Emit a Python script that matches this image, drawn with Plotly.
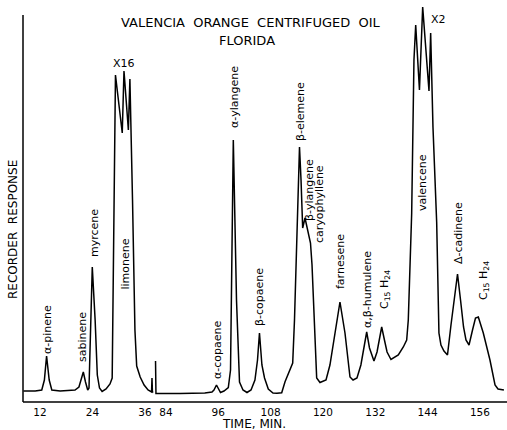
import plotly.graph_objects as go

# ---- data (time in min, response in arbitrary units) ----
left_time = [8.2, 10.9, 12.4, 13.0, 13.5, 14.1, 14.7, 16.6, 20.0, 20.9, 21.5, 21.9, 22.4, 22.9,
             23.2, 23.55, 23.95, 24.6, 25.1, 25.6, 26.2, 27.1, 28.0, 28.5, 28.8, 29.25, 30.8,
             31.2, 32.2, 32.55, 33.15, 33.7, 34.1, 34.9, 35.8, 36.7, 37.5, 37.6, 37.7, 37.9]
left_resp = [11, 11, 12, 22, 46, 22, 12, 11, 12, 15, 24, 30, 20, 12,
             14, 82, 135, 82, 27, 14, 10.5, 13, 18, 24, 152, 327, 269,
             331, 272, 323, 202, 72, 36, 25, 17, 12, 10, 24, 10, 10]

right_time = [81.6, 81.7, 87.2, 92.9, 94.55, 95.0, 95.58, 96.16, 96.5, 97.3, 98.29, 98.8,
              99.44, 100.17, 100.86, 101.66, 102.58, 103.5, 104.4, 104.99, 105.44, 106.0,
              106.6, 107.46, 108.54, 109.46, 110.54, 111.3, 112.44, 113.06, 113.47, 114.04,
              114.62, 114.97, 115.35, 115.88, 116.5, 117.14, 117.49, 118.17, 118.56, 119.32,
              120.7, 121.6, 122.76, 123.9, 125.05, 126.2, 126.9, 127.8, 128.7, 129.4, 130.03,
              130.67, 131.7, 132.4, 133.47, 134.1, 134.7, 135.6, 137.28, 138.43, 139.2, 139.57,
              139.7, 140.35, 140.87, 141.27, 142.13, 142.87, 144.32, 144.7, 145.23, 146.08,
              146.6, 147.06, 147.75, 148.56, 149.36, 150.17, 150.86, 151.55, 152.24, 152.8,
              153.5, 154.3, 154.98, 155.63, 156.0, 156.77, 158.3, 159.46, 160.15, 161.5]
right_resp = [41, 8.5, 8.5, 9, 10, 12, 17, 12, 9.5, 11, 14.3, 32,
              262, 102, 20, 12, 9.5, 12, 22, 42, 69, 37,
              24, 13, 9, 8.7, 9.3, 20.3, 32, 39, 82, 182,
              255, 222, 174, 184, 172, 159, 137, 69, 24, 19.5,
              22, 37, 69, 100, 69, 25, 22, 24, 37, 57, 70,
              54, 41, 50, 75, 62, 50, 42.5, 47, 55, 62, 82,
              102, 189, 342, 377, 312, 395, 311, 369, 275, 180,
              69, 57, 51, 47, 77, 107, 128, 102, 75, 62,
              57, 72, 84, 85, 80, 69, 42, 17, 13, 12]

left_ticks = [12, 24, 36]
right_ticks = [84, 96, 108, 120, 132, 144, 156]

# ---- layout geometry ----
W, H = 507, 430
ML, MR, MT, MB = 23, 2, 5, 28
PW, PH = W - ML - MR, H - MT - MB
split = (154 - ML) / PW


def px2paper(px, py):
    return (px - ML) / PW, (H - MB - py) / PH


fig = go.Figure()
line_style = dict(color="black", width=1.5)
fig.add_trace(go.Scatter(x=left_time, y=left_resp, mode="lines", line=line_style,
                         xaxis="x", yaxis="y", hoverinfo="skip", showlegend=False))
fig.add_trace(go.Scatter(x=right_time, y=right_resp, mode="lines", line=line_style,
                         xaxis="x2", yaxis="y", hoverinfo="skip", showlegend=False))

tickfont = dict(family="DejaVu Sans", size=10.5, color="black")
fig.update_layout(
    width=W, height=H,
    margin=dict(l=ML, r=MR, t=MT, b=MB, pad=0),
    paper_bgcolor="white", plot_bgcolor="white",
    xaxis=dict(domain=[0, split], range=[8.11, 38.06], tickvals=left_ticks,
               ticktext=[str(v) for v in left_ticks], showgrid=False, zeroline=False,
               showline=False, ticks="", tickfont=tickfont, ticklabelstandoff=2),
    xaxis2=dict(domain=[split, 1], range=[81.25, 161.75], tickvals=right_ticks,
                ticktext=[str(v) for v in right_ticks], showgrid=False, zeroline=False,
                showline=False, ticks="", tickfont=tickfont, anchor="y", ticklabelstandoff=2),
    yaxis=dict(range=[0, 397], showticklabels=False, showgrid=False, zeroline=False,
               showline=False, ticks=""),
)

# axis lines
x0, ytop = px2paper(23, 15)
fig.add_shape(type="line", xref="paper", yref="paper", x0=0, x1=0, y0=0, y1=ytop,
              line=dict(color="black", width=1.5))
fig.add_shape(type="line", xref="paper", yref="paper", x0=0, x1=1.01, y0=0, y1=0,
              line=dict(color="black", width=1.5))

font_lab = dict(family="DejaVu Sans", size=11, color="black")
labels = [
    ("α-pinene", 47, 330, -90),
    ("sabinene", 82, 337, -90),
    ("myrcene", 94, 233, -90),
    ("limonene", 124.5, 264, -90),
    ("X16", 124, 64, 0),
    ("α-copaene", 217, 350, -90),
    ("α-ylangene", 234, 97, -90),
    ("β-copaene", 259, 297, -90),
    ("β-elemene", 300, 112, -90),
    ("β-ylangene", 309, 190, -90),
    ("caryophyllene", 320, 204, -90),
    ("farnesene", 340, 262, -90),
    ("α,β-humulene", 367, 290, -90),
    ("C<sub>15</sub> H<sub>24</sub>", 385, 290, -90),
    ("valencene", 422, 183, -90),
    ("X2", 438, 20, 0),
    ("Δ-cadinene", 458, 233, -90),
    ("C<sub>15</sub> H<sub>24</sub>", 484, 281, -90),
]
for text, px, py, ang in labels:
    xp, yp = px2paper(px, py)
    fig.add_annotation(text=text, x=xp, y=yp, xref="paper", yref="paper", showarrow=False,
                       textangle=ang, xanchor="center", yanchor="middle", font=font_lab)

font_title = dict(family="DejaVu Sans", size=13, color="black")
for text, px, py in [("VALENCIA  ORANGE  CENTRIFUGED  OIL", 251, 22), ("FLORIDA", 247, 41)]:
    xp, yp = px2paper(px, py)
    fig.add_annotation(text=text, x=xp, y=yp, xref="paper", yref="paper", showarrow=False,
                       xanchor="center", yanchor="middle", font=font_title)

xp, yp = px2paper(254, 424)
fig.add_annotation(text="TIME, MIN.", x=xp, y=yp, xref="paper", yref="paper", showarrow=False,
                   xanchor="center", yanchor="middle", font=dict(family="DejaVu Sans", size=12, color="black"))
xp, yp = px2paper(13, 230)
fig.add_annotation(text="RECORDER  RESPONSE", x=xp, y=yp, xref="paper", yref="paper", showarrow=False,
                   textangle=-90, xanchor="center", yanchor="middle",
                   font=dict(family="DejaVu Sans", size=12, color="black"))

fig.write_html("out.html")
